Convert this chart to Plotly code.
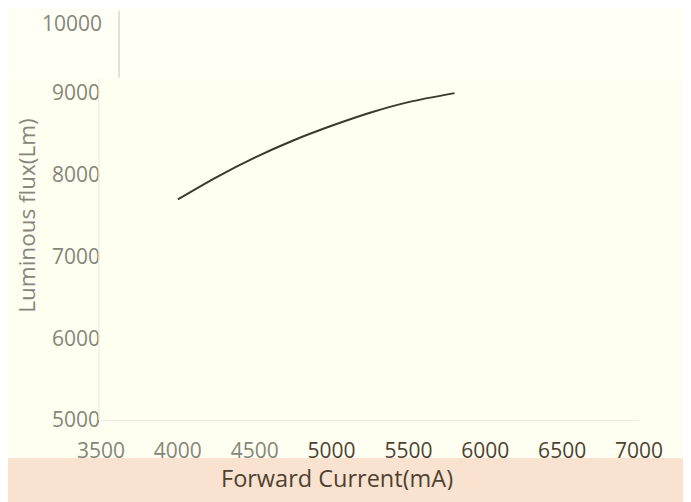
import plotly.graph_objects as go

current_ma = [4000, 4250, 4500, 4750, 5000, 5250, 5500, 5800]
flux_lm = [7700, 7970, 8210, 8420, 8600, 8760, 8890, 9000]

x_ticks = [3500, 4000, 4500, 5000, 5500, 6000, 6500, 7000]
y_ticks = [5000, 6000, 7000, 8000, 9000, 10000]
y_tick_text = ["5000", "6000", "7000", "8000", "9000", ""]
top_tick_label = "10000"
x_title = "Forward Current(mA)"
y_title = "Luminous flux(Lm)"

gray = "#86867a"
dark = "#4e4232"
x_tick_text = [
    f"<span style='color:{gray if v < 5000 else dark}'>{v}</span>" for v in x_ticks
]

fig = go.Figure()
fig.add_trace(go.Scatter(
    x=current_ma, y=flux_lm, mode="lines",
    line=dict(color="#3a3a2c", width=2, shape="spline", smoothing=0.8),
    showlegend=False, hoverinfo="skip",
))

fig.update_layout(
    width=691, height=502,
    margin=dict(l=93, r=60, t=3, b=90, autoexpand=False),
    paper_bgcolor="#FEFEF1",
    plot_bgcolor="rgba(0,0,0,0)",
    font=dict(family="Open Sans, Segoe UI, sans-serif", size=21, color=gray),
    shapes=[
        dict(type="rect", xref="paper", yref="paper",
             x0=-0.25, x1=1.25, y0=0.834, y1=1.1,
             fillcolor="#FFFFF6", line=dict(width=0), layer="below"),
        dict(type="rect", xref="paper", yref="paper",
             x0=-0.25, x1=1.25, y0=-0.4, y1=-0.093,
             fillcolor="#F9E3D0", line=dict(width=0), layer="below"),
        dict(type="line", xref="paper", yref="paper",
             x0=-0.004, x1=-0.004, y0=0, y1=0.834,
             line=dict(color="#EAEADA", width=1)),
        dict(type="line", xref="paper", yref="paper",
             x0=0.0335, x1=0.0335, y0=0.838, y1=1.0,
             line=dict(color="#D8D8CC", width=1.5)),
    ],
    annotations=[
        dict(text=top_tick_label, xref="paper", yref="y", x=0, y=y_ticks[-1],
             xanchor="right", yanchor="middle", xshift=3, yshift=-12,
             showarrow=False, font=dict(size=21, color=gray)),
        dict(text=x_title, xref="paper", yref="paper", x=0.439, y=-0.142,
             xanchor="center", yanchor="middle", showarrow=False, height=24,
             font=dict(size=23.5, color=dark)),
    ],
)
fig.update_xaxes(
    range=[3500, 7000], tickvals=x_ticks, ticktext=x_tick_text,
    showgrid=False, zeroline=False, showline=True, linecolor="#ECECDC", linewidth=1,
    ticks="", ticklabelstandoff=12, automargin=False, ticklabeloverflow="allow",
)
fig.update_yaxes(
    range=[5000, 10005], tickvals=y_ticks, ticktext=y_tick_text,
    showgrid=False, zeroline=False, showline=False,
    ticks="", tickfont=dict(color=gray), automargin=False, ticklabeloverflow="allow",
    title=dict(text=y_title, font=dict(size=22.5, color=gray), standoff=10),
)

fig.write_html("out.html")
